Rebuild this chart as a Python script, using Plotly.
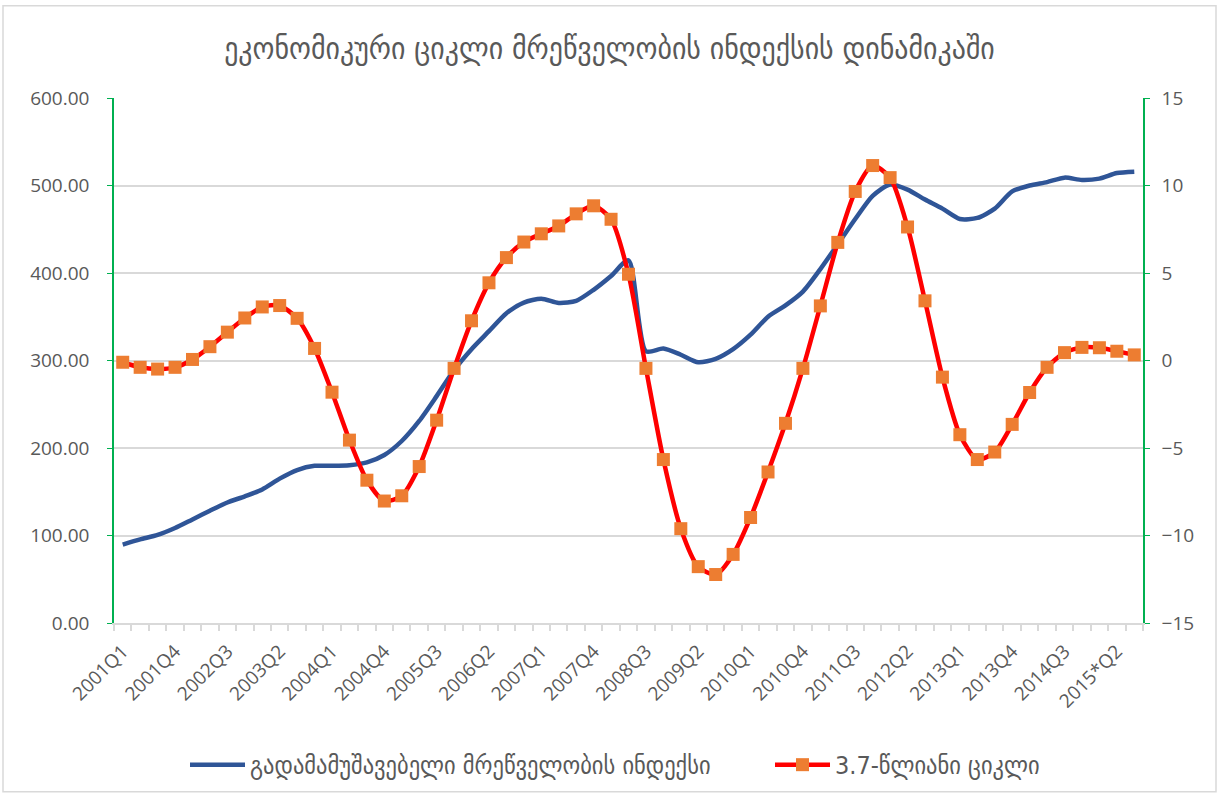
import plotly.graph_objects as go

# ---- data ----
years = list(range(2001, 2016))
quarters = []
for y in years:
    for q in range(1, 5):
        tag = f"{y}*Q{q}" if y == 2015 else f"{y}Q{q}"
        quarters.append(tag)
quarters = quarters[:59]  # 2001Q1 .. 2015*Q3

industry_index = [
    89.6, 95.5, 100.6, 108.5, 118.4, 128.3, 137.7, 144.8, 152.7, 165.0,
    174.8, 179.6, 179.6, 180.3, 183.5, 192.0, 208.0, 230.9, 259.3, 289.0,
    313.0, 333.5, 354.0, 366.2, 370.6, 365.8, 368.2, 380.8, 396.6, 414.4,
    310.6, 313.7, 306.6, 298.0, 301.9, 313.0, 329.5, 350.0, 363.0, 378.8,
    404.5, 432.9, 461.7, 488.2, 501.2, 495.3, 484.0, 473.6, 461.7, 462.9,
    473.6, 493.3, 500.0, 503.9, 509.0, 506.3, 507.9, 514.2, 515.8,
]
cycle = [
    -0.10, -0.39, -0.49, -0.39, 0.06, 0.79, 1.62, 2.43, 3.06, 3.14,
    2.41, 0.69, -1.81, -4.55, -6.84, -8.03, -7.73, -6.06, -3.41, -0.45,
    2.27, 4.44, 5.88, 6.77, 7.24, 7.69, 8.38, 8.84, 8.07, 4.93,
    -0.45, -5.66, -9.61, -11.78, -12.23, -11.08, -8.97, -6.37, -3.59, -0.45,
    3.12, 6.75, 9.66, 11.14, 10.45, 7.63, 3.41, -0.95, -4.24, -5.66,
    -5.23, -3.65, -1.83, -0.39, 0.45, 0.75, 0.73, 0.53, 0.32,
]

title_text = "ეკონომიკური ციკლი მრეწველობის ინდექსის დინამიკაში"
name_index = "გადამამუშავებელი მრეწველობის ინდექსი"
name_cycle = "3.7-წლიანი ციკლი"

left_ticks = [0, 100, 200, 300, 400, 500, 600]
right_ticks = [-15, -10, -5, 0, 5, 10, 15]

# ---- figure ----
x_idx = list(range(len(quarters)))
label_idx = x_idx[::3]

W, H = 1219, 800
ML, MR, MT, MB = 114, 76, 98, 173
pw, ph = W - ML - MR, H - MT - MB

grey = "#595959"
green = "#00B050"
gfont = "DejaVu Sans Condensed, DejaVu Sans, sans-serif"
nfont = "Open Sans, Liberation Sans, sans-serif"

fig = go.Figure()
fig.add_trace(go.Scatter(
    x=x_idx, y=industry_index, name=name_index, mode="lines",
    line=dict(color="#2F5597", width=4.5, shape="spline", smoothing=0.7),
    yaxis="y", legend="legend",
))
fig.add_trace(go.Scatter(
    x=x_idx, y=cycle, name=name_cycle, mode="lines+markers",
    line=dict(color="#FF0000", width=4.5, shape="spline", smoothing=0.7),
    marker=dict(symbol="square", size=13, color="#ED7D31"),
    yaxis="y2", legend="legend2",
))

leg_y = -(770 - (MT + ph)) / ph
leg_common = dict(orientation="h", y=leg_y, yanchor="middle", xanchor="left",
                  font=dict(family=gfont, size=25, color=grey),
                  itemwidth=55, bgcolor="rgba(0,0,0,0)")

fig.update_layout(
    width=W, height=H,
    margin=dict(l=ML, r=MR, t=MT, b=MB),
    paper_bgcolor="white", plot_bgcolor="white",
    title=dict(text=title_text, x=0.5, xanchor="center", y=1 - 48 / H, yanchor="middle",
               font=dict(family=gfont, size=31, color=grey)),
    xaxis=dict(
        range=[-0.5, len(quarters) - 0.5],
        tickmode="array", tickvals=label_idx,
        ticktext=[quarters[i] for i in label_idx],
        tickangle=-45, ticks="", ticklabelstandoff=8,
        tickfont=dict(family=nfont, size=19, color=grey),
        showline=True, linecolor="#d9d9d9", linewidth=1.5,
        showgrid=False, zeroline=False,
        minor=dict(tickmode="linear", tick0=-0.5, dtick=1, ticks="outside",
                   ticklen=6, tickcolor="#d9d9d9", tickwidth=1.5, showgrid=False),
    ),
    yaxis=dict(
        range=[0, 600], tickmode="array", tickvals=left_ticks, tickformat=".2f",
        tickfont=dict(family=nfont, size=19, color=grey),
        showline=True, linecolor=green, linewidth=1.5,
        ticks="outside", tickcolor=green, ticklen=5, ticklabelstandoff=14,
        showgrid=True, gridcolor="#d9d9d9", gridwidth=1.5, zeroline=False,
    ),
    yaxis2=dict(
        range=[-15, 15], tickmode="array", tickvals=right_ticks,
        overlaying="y", side="right",
        tickfont=dict(family=nfont, size=19, color=grey),
        showline=True, linecolor=green, linewidth=1.5,
        ticks="outside", tickcolor=green, ticklen=5, ticklabelstandoff=8,
        showgrid=False, zeroline=False,
    ),
    legend=dict(x=(185 - ML) / pw, **leg_common),
    legend2=dict(x=(770 - ML) / pw, **leg_common),
    showlegend=True,
)

# chart border (Excel-style)
fig.add_shape(type="rect", xref="paper", yref="paper",
              x0=(3 - ML) / pw, x1=(W - 3 - ML) / pw,
              y0=-(H - 3 - MT - ph) / ph, y1=1 + (MT - 5) / ph,
              line=dict(color="#d9d9d9", width=1.5), fillcolor="rgba(0,0,0,0)", layer="below")

fig.write_html("out.html", config={"displayModeBar": False},
               post_script="document.body.style.margin='0px';")
